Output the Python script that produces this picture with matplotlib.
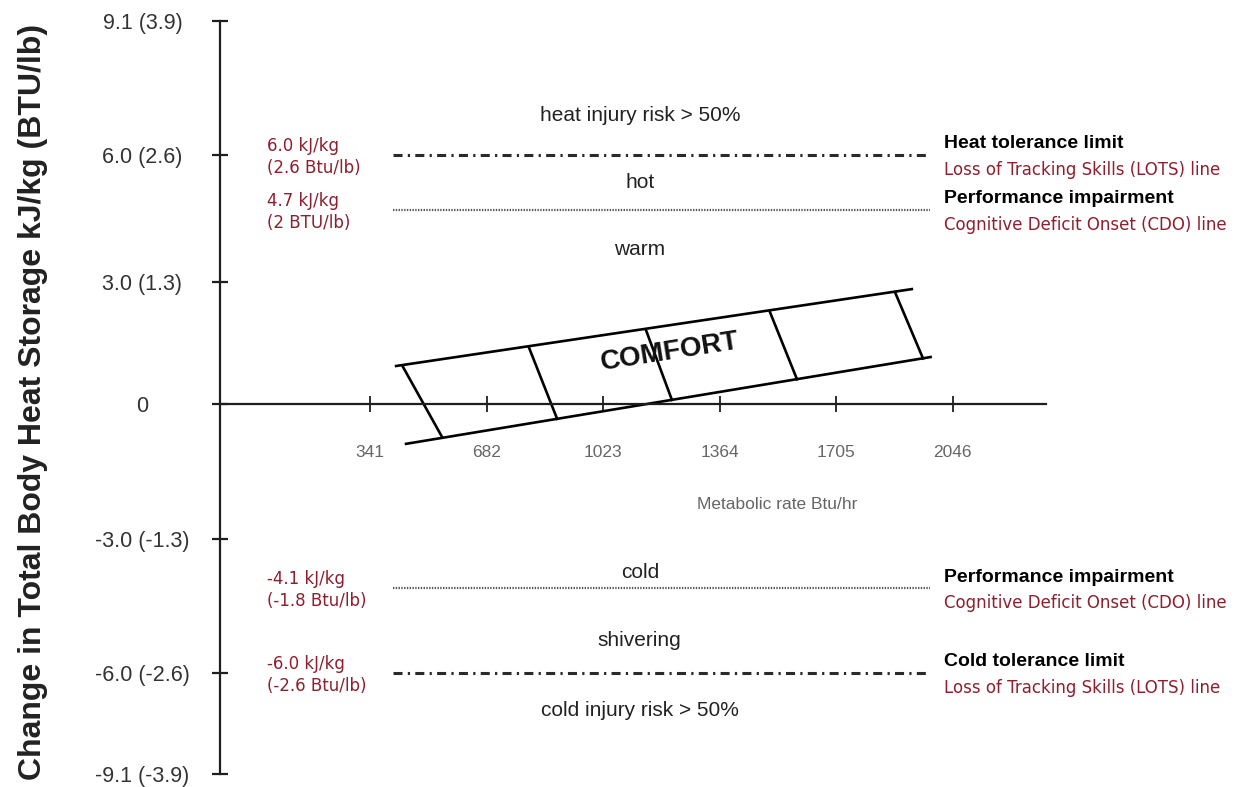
import numpy as np
import matplotlib
matplotlib.use("Agg")
import matplotlib.pyplot as plt

plt.rcParams["font.family"] = ["Liberation Sans", "DejaVu Sans"]
plt.rcParams["lines.scale_dashes"] = False

# heat storage axis (kJ/kg, Btu/lb in brackets) and metabolic rate axis (Btu/hr)
y_ticks = [-9.1, -6.0, -3.0, 0.0, 3.0, 6.0, 9.1]
y_tick_labels = ["-9.1 (-3.9)", "-6.0 (-2.6)", "-3.0 (-1.3)", "0",
                 "3.0 (1.3)", "6.0 (2.6)", "9.1 (3.9)"]
x_ticks = [341, 682, 1023, 1364, 1705, 2046]

# threshold lines
limit_levels = [6.0, 4.7, -4.1, -6.0]
limit_values = ["6.0 kJ/kg\n(2.6 Btu/lb)", "4.7 kJ/kg\n(2 BTU/lb)",
                "-4.1 kJ/kg\n(-1.8 Btu/lb)", "-6.0 kJ/kg\n(-2.6 Btu/lb)"]
limit_titles = ["Heat tolerance limit", "Performance impairment",
                "Performance impairment", "Cold tolerance limit"]
limit_notes = ["Loss of Tracking Skills (LOTS) line",
               "Cognitive Deficit Onset (CDO) line",
               "Cognitive Deficit Onset (CDO) line",
               "Loss of Tracking Skills (LOTS) line"]
limit_kind = ["lots", "cdo", "cdo", "lots"]
limit_span = [407, 1979]

# zone names between the lines
zone_names = ["heat injury risk > 50%", "hot", "warm",
              "cold", "shivering", "cold injury risk > 50%"]
zone_levels = [6.92, 5.36, 3.76, -3.74, -5.28, -7.15]

# comfort band: two edges and the cross rungs
band_top_x = [413, 1930]
band_top_y = [0.93, 2.83]
band_bot_x = [442, 1985]
band_bot_y = [-0.89, 1.16]
rung_x0 = [437, 806, 1148, 1511, 1877]
rung_y0 = [0.91, 1.38, 1.82, 2.26, 2.75]
rung_x1 = [551, 888, 1224, 1590, 1959]
rung_y1 = [-0.73, -0.33, 0.10, 0.61, 1.12]

# the vertical axis is not evenly spaced: drawn height of each tick (px from bottom)
_yv = np.array(y_ticks)
_yh = np.array([13, 114, 248, 383, 505, 632, 766], float)


def _pw(v, a, b):
    v = np.asarray(v, float)
    lo = (b[1] - b[0]) / (a[1] - a[0])
    hi = (b[-1] - b[-2]) / (a[-1] - a[-2])
    return np.where(v < a[0], b[0] + (v - a[0]) * lo,
                    np.where(v > a[-1], b[-1] + (v - a[-1]) * hi,
                             np.interp(v, a, b)))


def fwd(v):
    return _pw(v, _yv, _yh)


def inv(h):
    return _pw(h, _yh, _yv)


INK = "#1e1e1e"
RED = "#8e1f2f"

fig = plt.figure(figsize=(12.36, 7.87), dpi=100)
ax = fig.add_axes([0, 0, 1, 1])
ax.set_yscale("function", functions=(fwd, inv))
ax.set_xlim(-742.7, 2875.1)
ax.set_ylim(float(inv(0)), float(inv(787)))

x_axis_start, x_axis_end = -99, 2319
for side in ["top", "right"]:
    ax.spines[side].set_visible(False)
ax.spines["left"].set_position(("data", x_axis_start))
ax.spines["left"].set_bounds(y_ticks[0], y_ticks[-1])
ax.spines["bottom"].set_position(("data", 0))
ax.spines["bottom"].set_bounds(x_axis_start, x_axis_end)
for side in ["left", "bottom"]:
    ax.spines[side].set_linewidth(1.6)
    ax.spines[side].set_color(INK)

ax.set_yticks(y_ticks, y_tick_labels)
ax.set_xticks(x_ticks, [str(v) for v in x_ticks])
ax.minorticks_off()
ax.tick_params(axis="y", direction="inout", length=11.5, width=1.6, color=INK,
               pad=50, labelsize=15.5, labelcolor="#333333")
ax.tick_params(axis="x", direction="inout", length=11.5, width=1.3, color=INK,
               pad=24, labelsize=12.5, labelcolor="#666666")
for lbl in ax.get_yticklabels():
    lbl.set_ha("center")

ax.set_ylabel("Change in Total Body Heat Storage kJ/kg (BTU/lb)",
              fontsize=23, fontweight="bold", color="#222222")
ax.yaxis.set_label_coords(48 / 1236, 1 - 402 / 787)
ax.set_xlabel("Metabolic rate Btu/hr", fontsize=12.5, color="#666666")
ax.xaxis.set_label_coords(777 / 1236, 1 - 497 / 787)

# threshold lines with their values and names
for lev, val, title, note, kind in zip(limit_levels, limit_values, limit_titles,
                                       limit_notes, limit_kind):
    if kind == "lots":
        ax.hlines(lev, *limit_span, color="#2a2a2a", lw=2.2,
                  linestyles=[(0, (6.5, 3.8, 1.6, 3.8))])
    else:
        ax.hlines(lev, *limit_span, color="#555555", lw=1.6,
                  linestyles=[(0, (1.0, 1.0))])
    ax.annotate(val, xy=(38.8, lev), xytext=(0, -1.5), textcoords="offset points",
                ha="left", va="center", fontsize=12, color=RED,
                family="DejaVu Sans", linespacing=1.3)
    ax.annotate(title, xy=(2020, lev), xytext=(0, 8), textcoords="offset points",
                ha="left", va="center", fontsize=14, fontweight="bold", color="black")
    ax.annotate(note, xy=(2020, lev), xytext=(0, -10.5), textcoords="offset points",
                ha="left", va="center", fontsize=12, color=RED, family="DejaVu Sans")

for name, lev in zip(zone_names, zone_levels):
    ax.text(1130, lev, name, ha="center", va="center", fontsize=15, color="#222222")

# comfort band
ax.plot(band_top_x, band_top_y, color="black", lw=1.9, solid_capstyle="butt")
ax.plot(band_bot_x, band_bot_y, color="black", lw=1.9, solid_capstyle="butt")
for xa, ya, xb, yb in zip(rung_x0, rung_y0, rung_x1, rung_y1):
    ax.plot([xa, xb], [ya, yb], color="black", lw=1.9)
ax.text(1218, 1.28, "COMFORT", rotation=9, rotation_mode="anchor",
        ha="center", va="center", fontsize=20, fontweight="bold", color="#111111")

fig.savefig("out.png", dpi=100, facecolor="white")
